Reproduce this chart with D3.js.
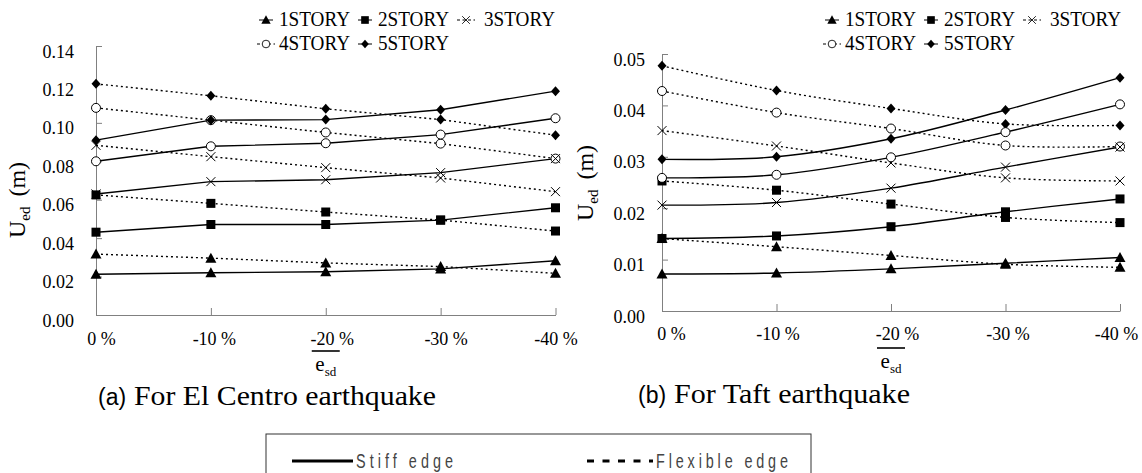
<!DOCTYPE html>
<html>
<head>
<meta charset="utf-8">
<script src="https://cdn.jsdelivr.net/npm/d3@7"></script>
<style>
  body { margin: 0; background: #fff; }
  svg { display: block; }
</style>
</head>
<body>
<svg id="chart" width="1142" height="473"></svg>
<script>
// Eccentricity ratio categories and storey series
const categories = ["0 %", "-10 %", "-20 %", "-30 %", "-40 %"];
const stories = ["1STORY", "2STORY", "3STORY", "4STORY", "5STORY"];
const markerTypes = ["triangle", "square", "cross", "circle", "diamond"];

// y tick values
const elCentroTicks = [0, 0.02, 0.04, 0.06, 0.08, 0.10, 0.12, 0.14];
const taftTicks = [0, 0.01, 0.02, 0.03, 0.04, 0.05];

// Edge displacement U_ed (m), El Centro record
const elCentroStiff = [
  [0.0212, 0.0220, 0.0225, 0.0240, 0.0282],
  [0.0431, 0.0471, 0.0471, 0.0494, 0.0558],
  [0.0630, 0.0694, 0.0704, 0.0741, 0.0814],
  [0.0800, 0.0878, 0.0894, 0.0939, 0.1024],
  [0.0910, 0.1014, 0.1017, 0.1068, 0.1165]
];
const elCentroFlexible = [
  [0.0317, 0.0296, 0.0271, 0.0252, 0.0217],
  [0.0625, 0.0581, 0.0536, 0.0494, 0.0437],
  [0.0883, 0.0824, 0.0767, 0.0713, 0.0642],
  [0.1078, 0.1014, 0.0950, 0.0892, 0.0814],
  [0.1203, 0.1141, 0.1073, 0.1017, 0.0936]
];

// Edge displacement U_ed (m), Taft record
const taftStiff = [
  [0.0072, 0.0074, 0.0082, 0.0093, 0.0104],
  [0.0141, 0.0146, 0.0164, 0.0193, 0.0218],
  [0.0206, 0.0211, 0.0239, 0.0280, 0.0319],
  [0.0259, 0.0265, 0.0299, 0.0348, 0.0402],
  [0.0295, 0.0300, 0.0335, 0.0391, 0.0454]
];
const taftFlexible = [
  [0.0141, 0.0125, 0.0108, 0.0091, 0.0085],
  [0.0253, 0.0235, 0.0208, 0.0182, 0.0172],
  [0.0351, 0.0321, 0.0288, 0.0259, 0.0253],
  [0.0428, 0.0386, 0.0355, 0.0322, 0.0320],
  [0.0477, 0.0429, 0.0394, 0.0364, 0.0361]
];

const captionsPrefix = ["(a)", "(b)"];
const captionsText = ["For El Centro earthquake", "For Taft earthquake"];
const edgeLegend = ["Stiff edge", "Flexible edge"];

const SERIF = "'Liberation Serif', 'Times New Roman', serif";
const SANS = "'Liberation Sans', Arial, sans-serif";
const AXIS_GRAY = "#808080";

const svg = d3.select("#chart");

const panels = [
  {
    stiff: elCentroStiff, flexible: elCentroFlexible, ticks: elCentroTicks,
    xRange: [96, 555.5], yRange: [315, 46], yMax: 0.14,
    curve: d3.curveLinear, labelPad: 22, xLabelY: 30, xLabelDx: [5, 3, 6, 5, 0],
    legendX: 266, ylabX: 25, ylabY: 200, esdY: 351, captionX: 98, captionY: 405,
    captionLen: 302, caption: 0
  },
  {
    stiff: taftStiff, flexible: taftFlexible, ticks: taftTicks,
    xRange: [662, 1120], yRange: [311, 54], yMax: 0.05,
    curve: d3.curveCatmullRom.alpha(0.5), labelPad: 17, xLabelY: 29, xLabelDx: [9, 1, 6, 2, -4],
    legendX: 832, ylabX: 593, ylabY: 183, esdY: 348, captionX: 638, captionY: 403,
    captionLen: 236, caption: 1
  }
];

// Marker glyphs centred on (0,0)
function drawMarker(g, type) {
  if (type === "triangle") {
    g.append("path").attr("d", "M0,-5.5L5.5,4.5L-5.5,4.5Z").attr("fill", "#000");
  } else if (type === "square") {
    g.append("rect").attr("x", -4.5).attr("y", -4.5).attr("width", 9).attr("height", 9).attr("fill", "#000");
  } else if (type === "cross") {
    g.append("path").attr("d", "M-4.5,-4.5L4.5,4.5M-4.5,4.5L4.5,-4.5").attr("stroke", "#000").attr("stroke-width", 1).attr("fill", "none");
  } else if (type === "circle") {
    g.append("circle").attr("r", 4.5).attr("fill", "#fff").attr("stroke", "#000").attr("stroke-width", 1);
  } else if (type === "diamond") {
    g.append("path").attr("d", "M0,-5L4.5,0L0,5L-4.5,0Z").attr("fill", "#000");
  }
}

panels.forEach(p => {
  const x = d3.scalePoint().domain(categories).range(p.xRange);
  const y = d3.scaleLinear().domain([0, p.yMax]).range(p.yRange);
  const g = svg.append("g");

  // y axis, ticks pointing inward
  const yAxis = g.append("g")
    .attr("transform", `translate(${p.xRange[0]},0)`)
    .call(d3.axisLeft(y).tickValues(p.ticks).tickFormat(d3.format(".2f"))
      .tickSizeInner(-6).tickSizeOuter(0).tickPadding(p.labelPad));
  yAxis.selectAll("path, line").attr("stroke", AXIS_GRAY);
  yAxis.selectAll("text")
    .attr("dy", "11px")
    .style("font-family", SERIF).style("font-size", "18px").attr("fill", "#000");

  // x axis, ticks pointing inward
  const xAxis = g.append("g")
    .attr("transform", `translate(0,${p.yRange[0]})`)
    .call(d3.axisBottom(x).tickSizeInner(-7).tickSizeOuter(0));
  xAxis.selectAll("path, line").attr("stroke", AXIS_GRAY);
  xAxis.selectAll("text")
    .attr("y", p.xLabelY).attr("dy", 0).attr("dx", (d, i) => p.xLabelDx[i])
    .style("font-family", SERIF).style("font-size", "18px").attr("fill", "#000");

  const line = d3.line()
    .x((d, i) => x(categories[i]))
    .y(d => y(d))
    .curve(p.curve);

  // series lines
  [["flexible", "2,3"], ["stiff", null]].forEach(([key, dash]) => {
    p[key].forEach(vals => {
      g.append("path").datum(vals)
        .attr("d", line)
        .attr("fill", "none")
        .attr("stroke", "#000")
        .attr("stroke-width", 1.4)
        .attr("stroke-dasharray", dash);
    });
  });

  // series markers
  ["flexible", "stiff"].forEach(key => {
    p[key].forEach((vals, s) => {
      vals.forEach((v, i) => {
        const m = g.append("g").attr("transform", `translate(${x(categories[i])},${y(v)})`);
        drawMarker(m, markerTypes[s]);
      });
    });
  });

  // storey legend
  const colSym = [0, 99, 200];
  const colText = [13, 112, 218];
  const rowBase = [26, 50];
  stories.forEach((name, s) => {
    const col = s < 3 ? s : s - 3;
    const row = s < 3 ? 0 : 1;
    const cx = p.legendX + colSym[col];
    const cy = rowBase[row] - 6;
    const dashed = (s === 2 || s === 3);
    g.append("line")
      .attr("x1", cx - (dashed ? 9 : 7)).attr("x2", cx + (dashed ? 9 : 7))
      .attr("y1", cy).attr("y2", cy)
      .attr("stroke", "#000").attr("stroke-width", 1)
      .attr("stroke-dasharray", dashed ? "3,2.5" : null);
    const m = g.append("g").attr("transform", `translate(${cx},${cy}) scale(0.85)`);
    drawMarker(m, markerTypes[s]);
    g.append("text")
      .attr("x", p.legendX + colText[col]).attr("y", rowBase[row])
      .style("font-family", SERIF).style("font-size", "20px").attr("fill", "#000")
      .attr("textLength", 71).attr("lengthAdjust", "spacingAndGlyphs")
      .text(name);
  });

  // y axis title
  const yt = g.append("text")
    .attr("transform", `translate(${p.ylabX},${p.ylabY}) rotate(-90)`)
    .attr("text-anchor", "middle")
    .style("font-family", SERIF).style("font-size", "24px").attr("fill", "#000");
  yt.append("tspan").text("U");
  yt.append("tspan").style("font-size", "15px").attr("dy", 5).text("ed");
  yt.append("tspan").attr("dy", -5).attr("dx", 10).text("(m)");

  // x axis title: e_sd with overbar
  const cx = x(categories[2]);
  g.append("line")
    .attr("x1", cx - 14).attr("x2", cx + 14)
    .attr("y1", p.esdY).attr("y2", p.esdY)
    .attr("stroke", "#000").attr("stroke-width", 1.6);
  const xt = g.append("text")
    .attr("x", cx).attr("y", p.esdY + 20)
    .attr("text-anchor", "middle")
    .style("font-family", SERIF).style("font-size", "21px").attr("fill", "#000");
  xt.append("tspan").text("e");
  xt.append("tspan").style("font-size", "13px").attr("dy", 5).text("sd");

  // panel caption
  g.append("text")
    .attr("x", p.captionX).attr("y", p.captionY)
    .style("font-family", SANS).style("font-size", "23px").attr("fill", "#000")
    .text(captionsPrefix[p.caption]);
  g.append("text")
    .attr("x", p.captionX + 36).attr("y", p.captionY)
    .style("font-family", SERIF).style("font-size", "27px").attr("fill", "#000")
    .attr("textLength", p.captionLen).attr("lengthAdjust", "spacingAndGlyphs")
    .text(captionsText[p.caption]);
});

// edge-type legend box
const lg = svg.append("g");
lg.append("rect")
  .attr("x", 266).attr("y", 434).attr("width", 545).attr("height", 60)
  .attr("fill", "none").attr("stroke", "#333").attr("stroke-width", 1);

const edgeItems = [
  { lx1: 292, lx2: 353, dash: null, tx: 356, len: 97 },
  { lx1: 587, lx2: 653, dash: "7,8.5", tx: 656, len: 132 }
];
const narrow = 0.72;
edgeItems.forEach((it, i) => {
  lg.append("line")
    .attr("x1", it.lx1).attr("x2", it.lx2).attr("y1", 461).attr("y2", 461)
    .attr("stroke", "#000").attr("stroke-width", 3).attr("stroke-dasharray", it.dash);
  lg.append("text")
    .attr("transform", `translate(${it.tx},468) scale(${narrow},1)`)
    .style("font-family", SANS).style("font-size", "20px")
    .attr("textLength", it.len / narrow).attr("lengthAdjust", "spacing")
    .attr("fill", "#444").text(edgeLegend[i]);
});
</script>
</body>
</html>
